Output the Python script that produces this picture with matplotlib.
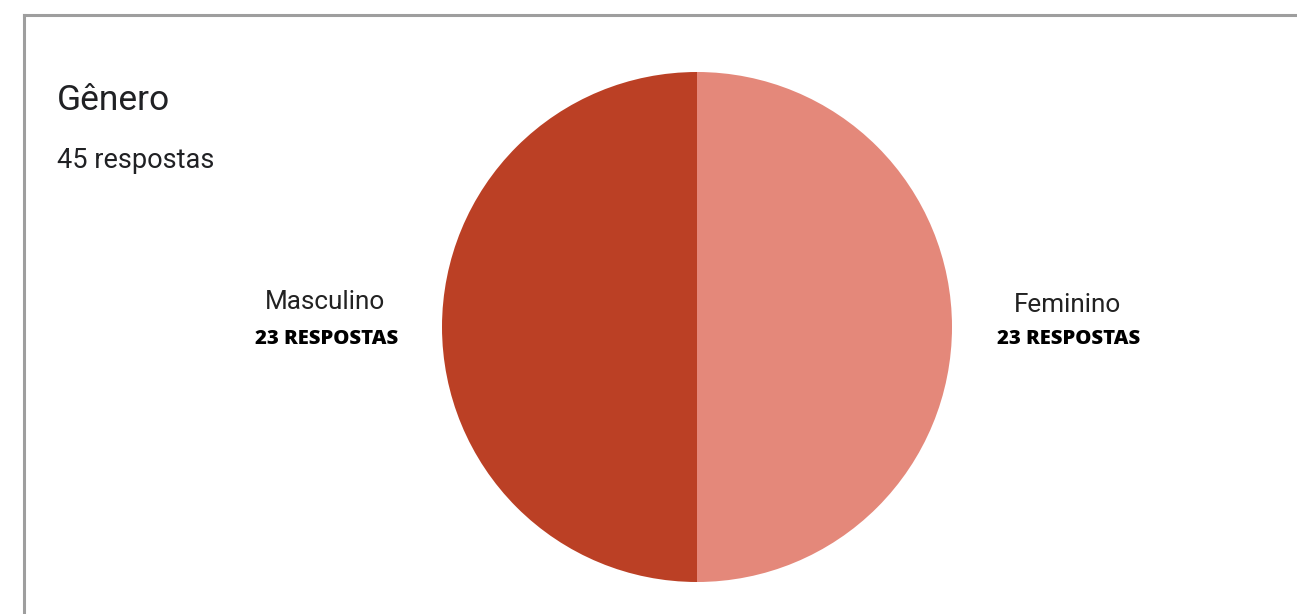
import matplotlib
matplotlib.use('Agg')
import matplotlib.pyplot as plt
from matplotlib.lines import Line2D

labels = ['Masculino', 'Feminino']
counts = [23, 23]
colors = ['#BB4025', '#E4887A']
title = 'Gênero'
subtitle = '45 respostas'

W, H = 1297, 614
fig = plt.figure(figsize=(W / 100, H / 100), dpi=100)
fig.patch.set_facecolor('white')

# frame of the card (top and left edges visible)
fig.add_artist(Line2D([24 / W, 24 / W], [0, 1 - 15 / H], color='#9e9e9e', lw=2.2,
                      transform=fig.transFigure))
fig.add_artist(Line2D([24 / W, 1], [1 - 15 / H, 1 - 15 / H], color='#9e9e9e', lw=2.2,
                      transform=fig.transFigure))

# pie placed by pixels: centre (697, 327), radius 255
cx, cy, r = 697, 327, 255
ax = fig.add_axes([(cx - r) / W, 1 - (cy + r) / H, 2 * r / W, 2 * r / H])
ax.pie(counts, colors=colors, startangle=90, counterclock=True,
       wedgeprops=dict(linewidth=0))
ax.set_xlim(-1, 1)
ax.set_ylim(-1, 1)
ax.set_aspect('equal')
ax.axis('off')

fig.text(57 / W, 1 - 100 / H, title, fontsize=25.5, family='Roboto',
         color='#202124', va='center', ha='left')
fig.text(57 / W, 1 - 160 / H, subtitle, fontsize=19.5, family='Roboto',
         color='#202124', va='center', ha='left')

label_pos = [(325, 302), (1067, 305)]
for lab, n, (x, y) in zip(labels, counts, label_pos):
    fig.text(x / W, 1 - y / H, lab, fontsize=18.8, family='Roboto',
             color='#222222', ha='center', va='center')
    fig.text((x + 2) / W, 1 - 339 / H, f'{n} RESPOSTAS', fontsize=14.6, family='Open Sans',
             weight='heavy', color='#000000', ha='center', va='center')

fig.savefig('out.png', dpi=100)
